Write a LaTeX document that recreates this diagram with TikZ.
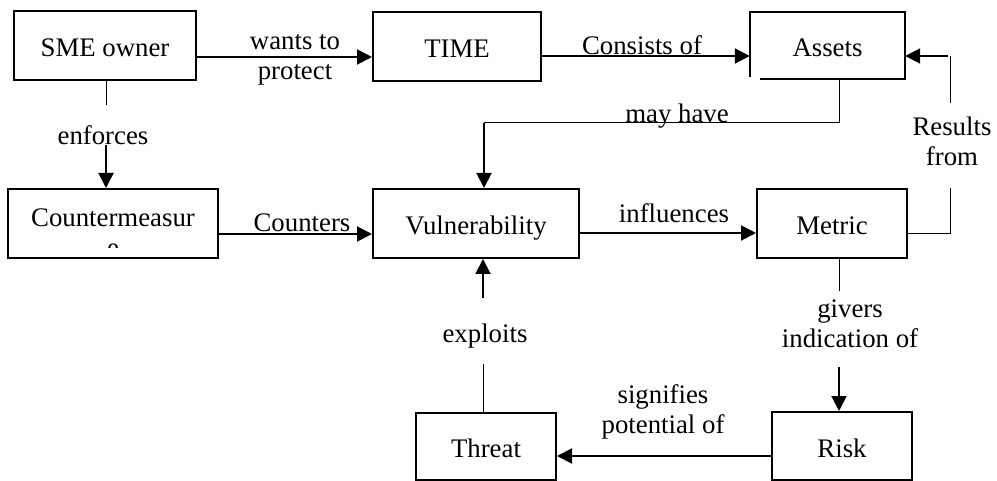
\documentclass[tikz,border=0pt]{standalone}
\usepackage{fontspec}
\setmainfont{Liberation Serif}
\usetikzlibrary{arrows.meta}
\begin{document}
\begin{tikzpicture}[x=1pt,y=-1pt,
  every node/.style={font=\fontsize{26.8}{30}\selectfont, inner sep=0pt},
  box/.style={draw, line width=2pt, text height=25pt, text depth=3pt},
  lbl/.style={anchor=base, align=center},
  arr/.style={line width=2pt, -{Triangle[length=15pt,width=15pt]}},
  thin/.style={line width=1pt}]
\useasboundingbox (0,0) rectangle (997,481);
% boxes
\node[box, minimum width=182pt, minimum height=69pt] (sme) at (105,45.5) {SME owner};
\node[box, minimum width=168pt, minimum height=69pt] (time) at (457,47) {TIME};
\node[minimum width=155pt, minimum height=67pt, text height=25pt, text depth=3pt] (assets) at (827.5,45.5) {Assets};
\draw[line width=2pt] ([xshift=10pt]assets.south west) -- (assets.south east) -- (assets.north east) -- (assets.north west) -- ([yshift=2pt]assets.south west);
\node[box, minimum width=210pt, minimum height=69pt, text height=0pt, text depth=0pt] (cm) at (113,223.5) {};
\begin{scope}
  \clip (8,189) rectangle (218,248);
  \node[lbl] (cmtext) at (113,257) {Countermeasur\\e};
\end{scope}
\node[box, minimum width=206pt, minimum height=69pt] (vul) at (476,223.5) {Vulnerability};
\node[box, minimum width=150pt, minimum height=69pt] (met) at (832,223.5) {Metric};
\node[box, minimum width=140pt, minimum height=67pt] (thr) at (486,446.5) {Threat};
\node[box, minimum width=140pt, minimum height=68pt] (risk) at (842,446) {Risk};
% helper coordinates
\coordinate (m1) at (839,123);
\coordinate (m2) at (484,123);
\coordinate (e1) at (106,105);
\coordinate (e2) at (106,145);
\coordinate (x1) at (483,298);
\coordinate (x2) at (483,364);
\coordinate (g1) at (839,291);
\coordinate (g2) at (839,367);
\coordinate (r1) at (950,234);
\coordinate (r2) at (950,188);
\coordinate (r3) at (950,103);
\coordinate (r4) at (950,56);
% connectors
\draw[arr] (sme.east |- 0,57) -- (time.west |- 0,57);
\draw[arr] (time.east |- 0,56) -- (assets.west |- 0,56);
\draw[thin] (m1 |- assets.south) -- (m1) -- (m2);
\draw[arr] (m2) -- (m2 |- vul.north);
\draw[thin] (e1 |- sme.south) -- (e1);
\draw[arr] (e2) -- (e2 |- cm.north);
\draw[arr] (cm.east |- 0,234) -- (vul.west |- 0,234);
\draw[arr] (vul.east |- 0,233) -- (met.west |- 0,233);
\draw[arr] (x1) -- (x1 |- vul.south);
\draw[thin] (x2 |- thr.north) -- (x2);
\draw[thin] (g1 |- met.south) -- (g1);
\draw[arr] (g2) -- (g2 |- risk.north);
\draw[arr] (risk.west |- 0,456) -- (thr.east |- 0,456);
\draw[thin] (met.east |- r1) -- (r1) -- (r2);
\draw[thin] (r3) -- (r4);
\draw[arr] ([xshift=-2pt]r4) -- (assets.east |- r4);
% labels
\node[lbl] (lwants) at (295,80) {wants to\\protect};
\node[lbl] (lcons) at (642,55) {Consists of};
\node[lbl] (lmay) at (677,123) {may have};
\node[lbl] (lenf) at (103,145) {enforces};
\node[lbl] (lcount) at (302,232) {Counters};
\node[lbl] (linfl) at (674,223) {influences};
\node[lbl] (lexp) at (485,343) {exploits};
\node[lbl] (lgiv) at (850,348) {givers\\indication of};
\node[lbl] (lsig) at (663,433) {signifies\\potential of};
\node[lbl] (lres) at (952,166) {Results\\from};
\end{tikzpicture}
\end{document}
